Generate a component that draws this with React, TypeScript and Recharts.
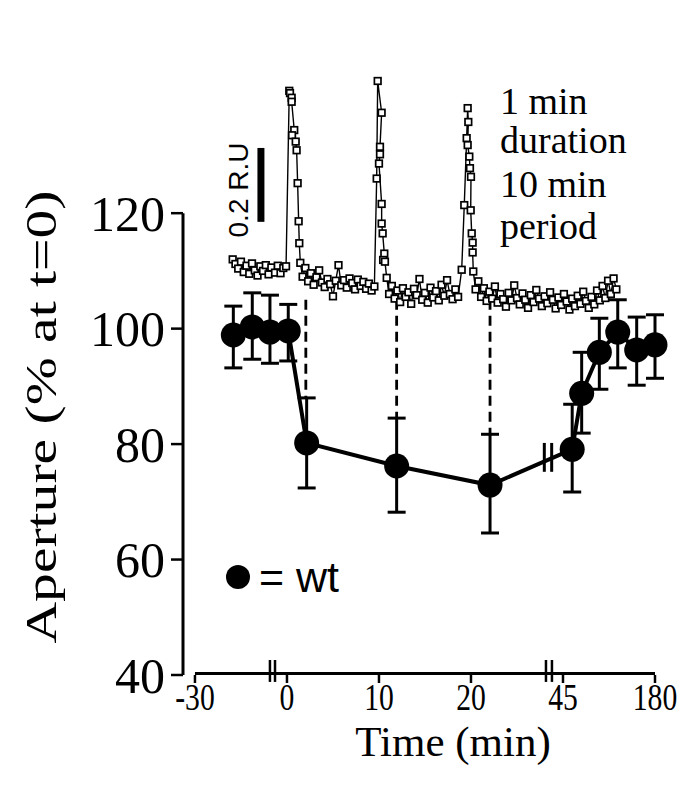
import {
  ComposedChart,
  Customized,
  ErrorBar,
  Line,
  ReferenceLine,
  XAxis,
  YAxis,
} from 'recharts';

const serif = '"Liberation Serif", "Times New Roman", serif';
const sans = '"Liberation Sans", Arial, sans-serif';

// x is a plot position: the axis is broken, so -30 / 45 / 180 min sit at -10 / 30 / 40
const timeTicks = [-10, 0, 10, 20, 30, 40];
const timeTickLabels = ['-30', '0', '10', '20', '45', '180'];
const apertureTicks = [40, 60, 80, 100, 120];

// wt aperture, mean and [lower, upper] error
const wtPos = [-5.83, -3.77, -1.85, 0.14, 2.14, 11.92, 22.07, 31.0, 32.03, 33.95, 35.95, 38.01, 40.0];
const wtAperture = [98.9, 100.3, 99.4, 99.6, 80.2, 76.2, 72.9, 79.1, 88.8, 95.9, 99.4, 96.3, 97.2];
const wtError: [number, number][] = [
  [5.7, 5.0], [5.6, 5.9], [5.4, 6.4], [5.2, 4.6], [7.8, 7.8], [8.0, 8.3], [8.3, 8.8],
  [7.4, 7.8], [6.9, 7.1], [6.4, 5.9], [6.2, 5.6], [6.1, 5.7], [5.8, 5.2],
];

// stimulus trace (open squares), drawn in the same plot units
const tracePoints: [number, number][] = [
  [-5.9, 112.0], [-5.6, 111.2], [-5.3, 110.4], [-5.0, 111.6], [-4.7, 109.8], [-4.4, 110.9],
  [-4.1, 109.5], [-3.8, 111.3], [-3.5, 110.1], [-3.2, 109.2], [-2.9, 110.8], [-2.6, 110.0],
  [-2.3, 111.0], [-2.0, 109.4], [-1.7, 110.6], [-1.3, 109.7], [-1.0, 110.9], [-0.7, 109.6],
  [-0.4, 110.5], [-0.1, 110.8],
  [0.25, 141.2], [0.33, 140.8], [0.51, 140.0], [0.51, 139.3], [0.79, 134.4], [0.55, 133.5],
  [0.95, 132.4], [1.05, 130.9], [1.16, 125.2], [1.27, 118.6], [1.34, 114.8], [1.45, 111.4],
  [1.7, 109.0], [2.0, 110.5], [2.3, 108.2], [2.6, 109.6], [2.9, 107.6], [3.2, 108.9],
  [3.5, 110.1], [3.8, 108.0], [4.1, 107.2], [4.4, 108.6], [4.7, 107.7], [5.0, 105.6],
  [5.3, 108.3], [5.6, 111.0], [5.9, 107.5], [6.2, 108.4], [6.5, 107.1], [6.8, 108.7],
  [7.1, 107.9], [7.4, 106.8], [7.7, 108.5], [8.0, 107.4], [8.3, 108.1], [8.6, 106.9],
  [8.9, 107.8], [9.2, 106.6], [9.5, 107.3],
  [9.75, 126.0], [9.86, 142.9], [10.29, 137.4], [10.11, 131.5], [10.11, 130.2], [10.0, 128.6],
  [10.29, 121.6], [10.29, 118.2], [10.4, 116.5], [10.58, 113.0], [10.45, 111.9], [10.65, 111.6],
  [10.84, 108.8],
  [11.1, 106.0], [11.4, 107.4], [11.7, 105.2], [12.0, 106.6], [12.3, 104.6], [12.6, 107.0],
  [12.9, 105.5], [13.2, 106.3], [13.5, 104.3], [13.8, 106.9], [14.1, 105.8], [14.4, 108.6],
  [14.7, 105.0], [15.0, 106.2], [15.3, 104.5], [15.6, 107.1], [15.9, 105.4], [16.2, 106.5],
  [16.5, 104.9], [16.8, 107.6], [17.1, 105.7], [17.4, 108.4], [17.7, 106.0], [18.0, 105.1],
  [18.3, 106.8], [18.6, 105.5],
  [18.99, 110.2], [19.27, 121.4], [19.53, 133.0], [19.64, 138.2], [19.71, 135.8], [19.64, 131.8],
  [19.82, 129.8], [19.89, 127.8], [20.0, 126.3], [19.97, 120.5], [20.08, 116.5], [20.18, 114.9],
  [20.18, 113.2], [20.25, 109.9],
  [20.5, 106.8], [20.8, 108.2], [21.1, 105.5], [21.4, 107.0], [21.7, 104.8], [22.0, 106.4],
  [22.3, 105.2], [22.6, 107.3], [22.9, 104.5], [23.2, 106.0], [23.5, 105.1], [23.8, 103.8],
  [24.1, 106.2], [24.4, 104.9], [24.7, 107.5], [25.0, 105.3], [25.3, 104.2], [25.6, 106.1],
  [25.9, 105.0], [26.2, 103.6], [26.5, 105.8], [26.8, 104.6], [27.1, 106.7], [27.4, 105.2],
  [27.7, 103.9], [28.0, 105.6], [28.3, 104.4], [28.6, 106.3], [28.9, 105.0], [29.2, 103.5],
  [29.5, 105.4], [29.8, 104.1], [30.1, 106.0], [30.4, 104.7], [30.7, 103.3], [31.0, 105.2],
  [31.3, 103.9], [31.6, 105.7], [31.9, 104.3], [32.2, 106.4], [32.5, 104.8], [32.8, 103.6],
  [33.1, 105.5], [33.4, 104.2], [33.7, 106.6], [34.0, 104.9], [34.3, 107.4], [34.6, 105.3],
  [34.9, 108.3], [35.2, 106.0], [35.5, 108.7], [35.8, 106.8],
];

// dashed guides from the trace down to the error bars: [pos, top, bottom]
const guideLines: [number, number, number][] = [
  [2.05, 105.0, 88.0],
  [11.92, 105.0, 84.5],
  [22.07, 105.0, 81.7],
];

const Y_AXIS_POS = -11.3;
const axisBreaks = [-1.85, -1.3, 28.15, 28.8];
const lineBreaks = [27.97, 28.77];
const scaleBar = { pos: -2.83, from: 118.5, to: 131.3 };

const wtData = wtPos.map((pos, i) => ({ pos, v: wtAperture[i], err: wtError[i] }));
const traceData = tracePoints.map(([pos, v]) => ({ pos, v }));

function TimeTick({ x, y, payload }: any) {
  const label = timeTickLabels[timeTicks.indexOf(payload.value)];
  return (
    <g transform={`translate(${x},${y})`}>
      <text
        transform="scale(0.78,1)"
        textAnchor="middle"
        dy="0.66em"
        fontSize={38}
        fontFamily={serif}
        fill="#000"
      >
        {label}
      </text>
    </g>
  );
}

function SquareDot(props: any) {
  const { cx, cy, index } = props;
  if (cx == null || cy == null) return <g key={index} />;
  return (
    <rect
      key={index}
      x={cx - 3.3}
      y={cy - 3.3}
      width={6.6}
      height={6.6}
      fill="#fff"
      stroke="#000"
      strokeWidth={1.7}
    />
  );
}

function Annotations() {
  return (
    <g fill="#000">
      <text
        x={56}
        y={417}
        transform="rotate(-90 56 417)"
        textAnchor="middle"
        fontSize={45}
        fontFamily={serif}
        textLength={453}
        lengthAdjust="spacingAndGlyphs"
      >
        Aperture (% at t=0)
      </text>
      <text x={453} y={756} textAnchor="middle" fontSize={43} fontFamily={serif}>
        Time (min)
      </text>
      <g fontSize={38} fontFamily={serif}>
        <text x={500} y={114}>1 min</text>
        <text x={500} y={153}>duration</text>
        <text x={500} y={197}>10 min</text>
        <text x={500} y={239}>period</text>
      </g>
      <text
        x={248}
        y={190}
        transform="rotate(-90 248 190)"
        textAnchor="middle"
        fontSize={28}
        fontFamily={sans}
      >
        0.2 R.U
      </text>
      <circle cx={238} cy={577} r={12} />
      <text x={259} y={592} fontSize={43} fontFamily={sans}>
        = wt
      </text>
    </g>
  );
}

export default function App() {
  return (
    <div style={{ position: 'absolute', left: 0, top: 0, background: '#fff' }}>
      <ComposedChart
        width={681}
        height={803}
        margin={{ top: 40, right: 26, bottom: 68, left: 0 }}
      >
        <XAxis
          type="number"
          dataKey="pos"
          domain={[Y_AXIS_POS, 40]}
          ticks={timeTicks}
          tick={<TimeTick />}
          tickSize={8}
          tickMargin={2}
          axisLine={false}
          tickLine={{ stroke: '#000', strokeWidth: 2.5 }}
          height={60}
        />
        <YAxis
          type="number"
          domain={[40, 150]}
          ticks={apertureTicks}
          width={183}
          tickSize={12}
          tickMargin={6}
          axisLine={false}
          tickLine={{ stroke: '#000', strokeWidth: 2.5 }}
          tick={{ fill: '#000', fontSize: 50, fontFamily: serif }}
        />

        <ReferenceLine
          segment={[{ x: Y_AXIS_POS, y: 40 }, { x: Y_AXIS_POS, y: 120 }]}
          stroke="#000"
          strokeWidth={3}
          ifOverflow="visible"
        />
        <ReferenceLine
          segment={[{ x: -10, y: 40.25 }, { x: 40, y: 40.25 }]}
          stroke="#000"
          strokeWidth={3}
          ifOverflow="visible"
        />
        {axisBreaks.map((pos) => (
          <ReferenceLine
            key={`ab-${pos}`}
            segment={[{ x: pos, y: 42.6 }, { x: pos, y: 38.8 }]}
            stroke="#000"
            strokeWidth={2.5}
            ifOverflow="visible"
          />
        ))}
        <ReferenceLine
          segment={[{ x: scaleBar.pos, y: scaleBar.from }, { x: scaleBar.pos, y: scaleBar.to }]}
          stroke="#000"
          strokeWidth={7}
        />
        {guideLines.map(([pos, top, bottom]) => (
          <ReferenceLine
            key={`g-${pos}`}
            segment={[{ x: pos, y: top }, { x: pos, y: bottom }]}
            stroke="#000"
            strokeWidth={2.8}
            strokeDasharray="10 6"
          />
        ))}

        <Line
          data={traceData}
          dataKey="v"
          stroke="#000"
          strokeWidth={1.4}
          dot={SquareDot}
          activeDot={false}
          isAnimationActive={false}
        />
        <Line
          data={wtData}
          dataKey="v"
          stroke="#000"
          strokeWidth={4}
          dot={{ r: 12.5, fill: '#000', stroke: '#000', strokeWidth: 0 }}
          activeDot={false}
          isAnimationActive={false}
        >
          <ErrorBar
            dataKey="err"
            direction="y"
            width={9}
            stroke="#000"
            strokeWidth={3}
            isAnimationActive={false}
          />
        </Line>

        {lineBreaks.map((pos) => (
          <ReferenceLine
            key={`lb-${pos}`}
            segment={[{ x: pos, y: 80.2 }, { x: pos, y: 75.2 }]}
            stroke="#000"
            strokeWidth={3}
          />
        ))}
        <Customized component={Annotations} />
      </ComposedChart>
    </div>
  );
}
